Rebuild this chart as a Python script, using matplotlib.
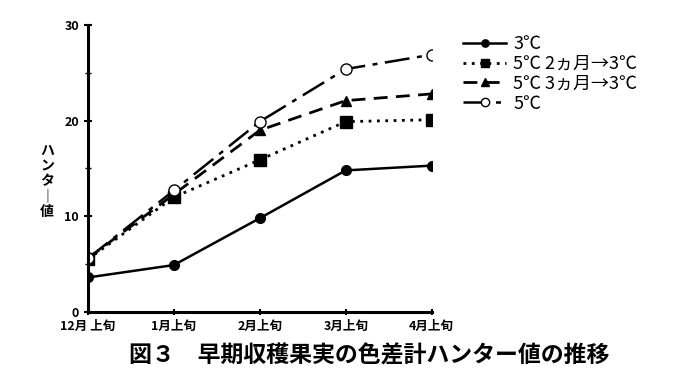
import matplotlib
matplotlib.use('Agg')
import matplotlib.pyplot as plt

plt.rcParams['font.family'] = ['Noto Sans CJK JP', 'DejaVu Sans']

months = ['12月 上旬', '1月上旬', '2月上旬', '3月上旬', '4月上旬']
s_3c = [3.6, 4.9, 9.8, 14.8, 15.3]
s_5c2 = [5.5, 12.0, 15.9, 19.9, 20.1]
s_5c3 = [5.6, 12.3, 19.0, 22.1, 22.8]
s_5c = [5.6, 12.7, 19.9, 25.4, 26.9]
labels = ['3℃', '5℃ 2ヵ月→3℃', '5℃ 3ヵ月→3℃', '5℃']

fig = plt.figure(figsize=(6.9, 3.86), dpi=100)
ax = fig.add_axes([0.1275, 0.192, 0.498, 0.743])

x = range(len(months))
ax.plot(x, s_3c, '-', color='black', lw=1.8, marker='o', ms=7, label=labels[0])
ax.plot(x, s_5c2, color='black', lw=2, ls=(0, (1, 2)), marker='s', ms=8, label=labels[1])
ax.plot(x, s_5c3, color='black', lw=2, ls=(0, (5, 3)), marker='^', ms=7, label=labels[2])
ax.plot(x, s_5c, color='black', lw=1.8, ls=(0, (10, 3, 2, 3)), marker='o', ms=8,
        mfc='white', mec='black', label=labels[3])

ax.set_xlim(0, 4)
ax.set_ylim(0, 30)
ax.set_yticks([0, 10, 20, 30])
ax.set_yticks([5, 15, 25], minor=True)
ax.set_xticks(list(x))
ax.set_xticklabels(months, fontsize=9, fontweight='bold')
ax.tick_params(axis='y', labelsize=9, direction='inout', length=6, width=1.5)
ax.tick_params(axis='y', which='minor', direction='inout', length=4, width=1)
ax.tick_params(axis='x', direction='inout', length=5, width=1.5, pad=3)
for lab in ax.get_yticklabels():
    lab.set_fontweight('bold')
for s in ['top', 'right']:
    ax.spines[s].set_visible(False)
for s in ['left', 'bottom']:
    ax.spines[s].set_linewidth(2.2)
ax.spines['left'].set_bounds(0, 30)

fig.text(0.068, 0.53, 'ハ\nン\nタ\n｜\n値', fontsize=10, fontweight='bold',
         ha='center', va='center', linespacing=1.1)

ax.legend(loc='upper left', bbox_to_anchor=(1.07, 0.99), frameon=False, fontsize=13,
          handlelength=2.4, handletextpad=0.4, labelspacing=0.1, borderaxespad=0,
          markerscale=0.75)

fig.text(0.535, 0.078, '図３　早期収穫果実の色差計ハンター値の推移', fontsize=16.5,
         fontweight='bold', ha='center', va='center')

fig.savefig('out.png', dpi=100)
